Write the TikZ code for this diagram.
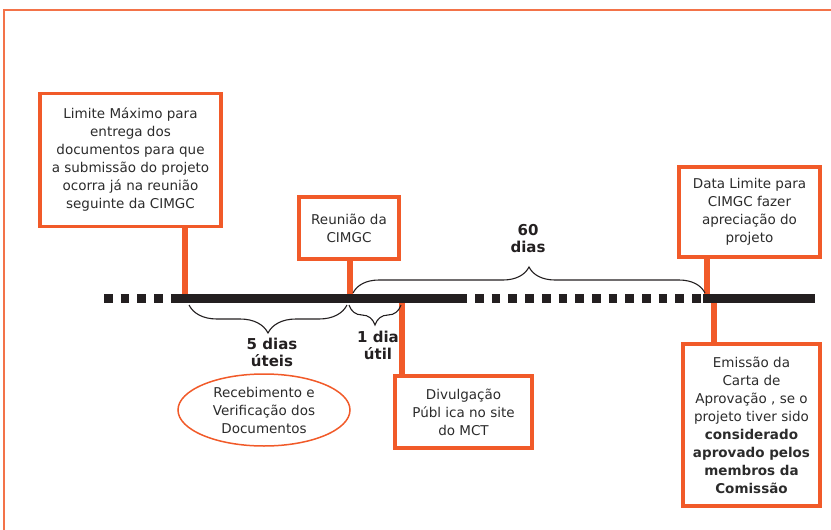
\documentclass[tikz,border=0pt]{standalone}
\usepackage{fontspec}
\setmainfont{DejaVu Sans}
\usepackage{xcolor}
\usepackage{tikz}
\usetikzlibrary{decorations.pathreplacing,shapes.geometric}

\definecolor{laranja}{HTML}{F15A29}
\definecolor{texto}{HTML}{2B2B2B}
\definecolor{linha}{HTML}{231F20}
\tikzset{
  caixa/.style={draw=laranja, line width=3.5pt, text=texto, align=center,
    inner sep=0pt, font=\fontsize{13.5}{18}\selectfont},
  haste/.style={draw=laranja, line width=6pt},
  chave/.style={decorate, decoration={brace, amplitude=#1}, draw=linha, line width=1.1pt},
  chavebaixo/.style={decorate, decoration={brace, mirror, amplitude=#1}, draw=linha, line width=1.1pt},
  rotulo/.style={font=\fontsize{15}{17}\selectfont\bfseries, text=linha, align=center, inner sep=0pt},
  tracos/.style={draw=linha, line width=9pt, dash pattern=on 8.7pt off 8pt},
  cheia/.style={draw=linha, line width=9pt},
}

\begin{document}
\begin{tikzpicture}[x=1pt, y=-1pt]
    \useasboundingbox (0,0) rectangle (831,530);
    \draw[laranja!85, line width=1.5pt] (4,540) -- (4,10) -- (840,10);

    % caixas
    \node[caixa, minimum width=181pt, minimum height=133pt] (lim) at (130.5,160)
      {Limite Máximo para\\entrega dos\\documentos para que\\a submissão do projeto\\ocorra já na reunião\\seguinte da CIMGC};
    \node[caixa, minimum width=100pt, minimum height=62pt] (reun) at (349,228)
      {Reunião da\\CIMGC};
    \node[caixa, minimum width=137pt, minimum height=72pt] (div) at (463.5,412)
      {Divulgação\\Públ ica no site\\do MCT};
    \node[caixa, minimum width=141pt, minimum height=90pt] (datalim) at (749.5,212)
      {Data Limite para\\CIMGC fazer\\apreciação do\\projeto};
    \node[caixa, minimum width=137pt, minimum height=162pt] (emis) at (751.5,425)
      {Emissão da\\Carta de\\Aprovação , se o\\projeto tiver sido\\\textbf{considerado}\\\textbf{aprovado pelos}\\\textbf{membros da}\\\textbf{Comissão}};
    \node[ellipse, draw=laranja, line width=1.5pt, minimum width=172pt, minimum height=72pt,
      inner sep=0pt, text=texto, align=center, font=\fontsize{13.5}{18}\selectfont] (receb) at (264,410)
      {Recebimento e\\Verificação dos\\Documentos};

    % linha do tempo
    \coordinate (t1) at (185,298);
    \coordinate (t2) at (350,298);
    \coordinate (t3) at (402,298);
    \coordinate (t4) at (707,298);
    \coordinate (t5) at (714,298);
    \draw[haste] (lim.south -| t1) -- (t1);
    \draw[haste] (reun.south -| t2) -- (t2);
    \draw[haste] (div.north -| t3) -- (t3);
    \draw[haste] (datalim.south -| t4) -- (t4);
    \draw[haste] (emis.north -| t5) -- (t5);
    \draw[tracos] (104,298) -- (171,298);
    \draw[cheia] (171,298) -- (467,298);
    \draw[tracos] (475,298) -- (703,298);
    \draw[cheia] (703,298) -- (815,298);

    % chaves
    \draw[chave=26pt] ([shift={(3pt,5pt)}]t2) -- ([shift={(-2pt,5pt)}]t4);
    \draw[chavebaixo=28pt] ([shift={(4pt,-7pt)}]t1) -- ([shift={(-3pt,-7pt)}]t2);
    \draw[chavebaixo=20pt] ([shift={(-1pt,-7pt)}]t2) -- ([shift={(-1pt,-7pt)}]t3);
    \node[rotulo] (sessenta) at (528,239) {60\\dias};
    \node[rotulo] (cinco) at (272,352) {5 dias\\úteis};
    \node[rotulo] (um) at (378,345) {1 dia\\útil};
  \end{tikzpicture}
\end{document}
